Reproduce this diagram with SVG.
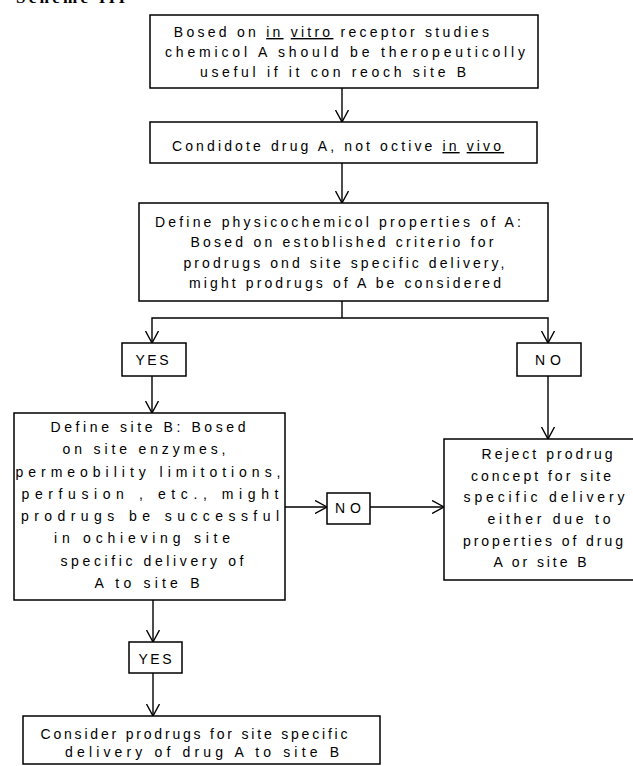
<svg xmlns="http://www.w3.org/2000/svg" width="633" height="766" viewBox="0 0 633 766">
<defs>
<marker id="arr" viewBox="0 0 12 14" refX="12" refY="7" markerWidth="12" markerHeight="14" markerUnits="userSpaceOnUse" orient="auto">
<path d="M0,0.5 L12,7 L0,13.5" fill="none" stroke="#000" stroke-width="1.4"/>
</marker>
<style>
rect{fill:#fff;stroke:#000;stroke-width:1.5}
text{font-family:"Liberation Sans",Arial,sans-serif;font-size:14px;fill:#000;text-anchor:middle}
.c path,.c line{fill:none;stroke:#000;stroke-width:1.4}
.u{text-decoration:underline}
.t{font-family:"Liberation Serif",serif;font-weight:bold;font-size:17px;text-anchor:start}
</style>
</defs>
<rect x="0" y="0" width="633" height="766" style="stroke:none"/>
<text class="t" x="16" y="3" textLength="109" lengthAdjust="spacing">Scheme III</text>
<g class="c" id="connectors">
<line x1="342" y1="88" x2="342" y2="122" marker-end="url(#arr)"/>
<line x1="342" y1="163" x2="342" y2="203" marker-end="url(#arr)"/>
<line x1="342" y1="301" x2="342" y2="318"/>
<path d="M342,318 H152 V343" marker-end="url(#arr)"/>
<path d="M342,318 H548 V343" marker-end="url(#arr)"/>
<line x1="152" y1="376" x2="152" y2="413" marker-end="url(#arr)"/>
<line x1="548" y1="376" x2="548" y2="439" marker-end="url(#arr)"/>
<line x1="285" y1="507" x2="327" y2="507" marker-end="url(#arr)"/>
<line x1="370" y1="507" x2="444" y2="507" marker-end="url(#arr)"/>
<line x1="153" y1="600" x2="153" y2="642" marker-end="url(#arr)"/>
<line x1="153" y1="673" x2="153" y2="716" marker-end="url(#arr)"/>
</g>
<g id="n1">
<rect x="150" y="15" width="388" height="73"/>
<text x="333" y="37" style="letter-spacing:3.25px">Bosed on <tspan class="u">in</tspan> <tspan class="u">vitro</tspan> receptor studies</text>
<text x="345" y="57" textLength="360" lengthAdjust="spacing">chemicol A should be theropeuticolly</text>
<text x="333" y="77" textLength="266" lengthAdjust="spacing">useful if it con reoch site B</text>
</g>
<g id="n2">
<rect x="150" y="122" width="387" height="41"/>
<text x="338" y="151" style="letter-spacing:3.13px">Condidote drug A, not octive <tspan class="u">in</tspan> <tspan class="u">vivo</tspan></text>
</g>
<g id="n3">
<rect x="139" y="203" width="409" height="98"/>
<text x="338" y="227" textLength="366" lengthAdjust="spacing">Define physicochemicol properties of A:</text>
<text x="342" y="247" textLength="303" lengthAdjust="spacing">Bosed on estoblished criterio for</text>
<text x="344" y="268" textLength="321" lengthAdjust="spacing">prodrugs ond site specific delivery,</text>
<text x="345" y="288" textLength="312" lengthAdjust="spacing">might prodrugs of A be considered</text>
</g>
<g id="yes1">
<rect x="122" y="343" width="64" height="33"/>
<text x="152" y="365" textLength="33" lengthAdjust="spacing">YES</text>
</g>
<g id="no1">
<rect x="517" y="343" width="64" height="33"/>
<text x="548" y="365" textLength="26" lengthAdjust="spacing">NO</text>
</g>
<g id="n4">
<rect x="14" y="413" width="271" height="187"/>
<text x="148" y="432" textLength="195" lengthAdjust="spacing">Define site B: Bosed</text>
<text x="144" y="454" textLength="163" lengthAdjust="spacing">on site enzymes,</text>
<text x="148" y="477" textLength="265" lengthAdjust="spacing">permeobility limitotions,</text>
<text x="150" y="499" textLength="257" lengthAdjust="spacing">perfusion , etc., might</text>
<text x="150" y="521" textLength="258" lengthAdjust="spacing">prodrugs be successful</text>
<text x="142" y="543" textLength="176" lengthAdjust="spacing">in ochieving site</text>
<text x="152" y="566" textLength="183" lengthAdjust="spacing">specific delivery of</text>
<text x="147" y="588" textLength="105" lengthAdjust="spacing">A to site B</text>
</g>
<g id="no2">
<rect x="327" y="493" width="43" height="31"/>
<text x="348" y="513" textLength="26" lengthAdjust="spacing">NO</text>
</g>
<g id="n5">
<rect x="444" y="439" width="200" height="141"/>
<text x="547" y="459" textLength="131" lengthAdjust="spacing">Reject prodrug</text>
<text x="541" y="481" textLength="140" lengthAdjust="spacing">concept for site</text>
<text x="544" y="502" textLength="161" lengthAdjust="spacing">specific delivery</text>
<text x="549" y="524" textLength="123" lengthAdjust="spacing">either due to</text>
<text x="543" y="546" textLength="160" lengthAdjust="spacing">properties of drug</text>
<text x="540" y="567" textLength="93" lengthAdjust="spacing">A or site B</text>
</g>
<g id="yes2">
<rect x="129" y="642" width="53" height="31"/>
<text x="155" y="664" textLength="33" lengthAdjust="spacing">YES</text>
</g>
<g id="n6">
<rect x="23" y="716" width="357" height="48"/>
<text x="194" y="739" textLength="307" lengthAdjust="spacing">Consider prodrugs for site specific</text>
<text x="202" y="757" textLength="274" lengthAdjust="spacing">delivery of drug A to site B</text>
</g>
</svg>
